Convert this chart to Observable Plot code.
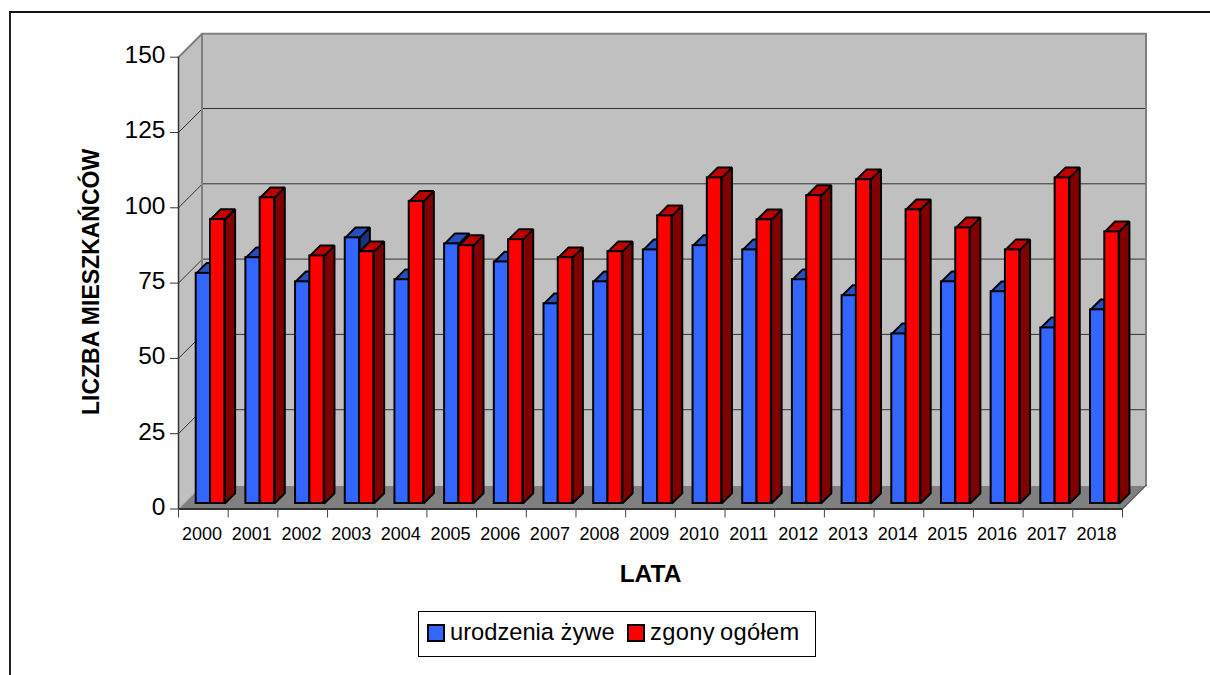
<!DOCTYPE html>
<html lang="pl">
<head>
<meta charset="utf-8">
<script src="https://cdn.jsdelivr.net/npm/d3@7"></script>
<script src="https://cdn.jsdelivr.net/npm/@observablehq/plot@0.6"></script>
<style>
  html, body { margin: 0; padding: 0; background: #fff; overflow: hidden; }
  body { width: 1210px; height: 675px; position: relative; font-family: "Liberation Sans", Arial, sans-serif; color: #000; }
  #chart { position: absolute; left: 0; top: 0; }
  #chart svg { display: block; }
  #frame { position: absolute; left: 9px; top: 11px; right: 0; bottom: 0; border-left: 2px solid #222; border-top: 2px solid #111; pointer-events: none; }
  #ylabel { position: absolute; left: 77px; top: 145px; width: 28px; height: 270px; font-weight: bold; font-size: 23px; line-height: 28px; white-space: nowrap; writing-mode: vertical-rl; transform: rotate(180deg); }
  #legend { position: absolute; left: 418px; top: 611px; width: 396px; height: 44px; border: 1px solid #000; background: #fff; font-size: 23.7px; }
  #legend .sw { position: absolute; top: 12px; width: 14px; height: 14px; border: 2px solid #000; }
  #legend .lb { position: absolute; top: 4px; line-height: 32px; white-space: nowrap; }
</style>
</head>
<body>
<div id="chart"></div>
<div id="frame"></div>
<div id="ylabel">LICZBA MIESZKAŃCÓW</div>
<div id="legend">
  <span class="sw" style="left:8px;background:#3366ff"></span><span class="lb" style="left:31px">urodzenia żywe</span>
  <span class="sw" style="left:208px;background:#ff0000"></span><span class="lb" style="left:231px;word-spacing:-2px;letter-spacing:0.35px">zgony ogółem</span>
</div>
<script>
const years = [2000,2001,2002,2003,2004,2005,2006,2007,2008,2009,2010,2011,2012,2013,2014,2015,2016,2017,2018];
const urodzenia = [76.4,81.6,73.6,88.2,74.3,86.2,80.2,66.3,73.6,84.2,85.6,84.2,74.3,69,56.3,73.6,70.3,58.3,64.3];
const zgony = [94.3,101.5,82.2,83.6,100.3,85.6,87.6,81.6,83.6,95.5,108.1,94.2,102.2,107.5,97.5,91.5,84.2,108.1,90.2];
const yTicks = [0,25,50,75,100,125,150];

// pixel geometry of the oblique projection, turned into data units
const W = 1210, H = 675, L = 178, R = 1122, T = 56.7, B = 508.5;
const ux = (R - L) / years.length, uy = (B - T) / 150;
const wallX = 23.5 / ux, wallY = 23.5 / uy;          // full depth of the chart box
const frontY = 5.5 / uy;                              // bar front plane
const barDX = 10.3 / ux, barDY = 10.3 / uy;           // bar depth
const off = 17.7 / ux, bw1 = 14.3 / ux, bw2 = 14.3 / ux;

function poly(id, pts) {
  return [...pts, pts[0]].map(([x, y]) => ({id, x, y}));
}
function barFaces(values, start, width) {
  const top = [], side = [];
  values.forEach((v, i) => {
    const a = i + start, b = a + width, h = v + frontY;
    top.push(...poly("t" + i, [[a, h], [b, h], [b + barDX, h + barDY], [a + barDX, h + barDY]]));
    side.push(...poly("s" + i, [[b, h], [b + barDX, h + barDY], [b + barDX, frontY + barDY], [b, frontY]]));
  });
  return {top, side};
}
function bars(values, start, width, front, topC, sideC) {
  const f = barFaces(values, start, width);
  const st = {stroke: "#000", strokeWidth: 2, strokeLinejoin: "miter"};
  return [
    Plot.line(f.side, {x: "x", y: "y", z: "id", fill: sideC, ...st}),
    Plot.line(f.top, {x: "x", y: "y", z: "id", fill: topC, ...st}),
    Plot.rect(values, {
      x1: (d, i) => i + start, x2: (d, i) => i + start + width,
      y1: frontY, y2: d => d + frontY, fill: front, ...st
    })
  ];
}

const n = years.length;
const chart = Plot.plot({
  width: W, height: H,
  marginLeft: L, marginRight: W - R, marginTop: T, marginBottom: H - B,
  style: {fontFamily: "'Liberation Sans', Arial, sans-serif", background: "transparent", color: "#000", overflow: "visible"},
  x: {type: "linear", domain: [0, n]},
  y: {type: "linear", domain: [0, 150]},
  marks: [
    // back wall
    Plot.rect([0], {x1: wallX, x2: n + wallX, y1: wallY, y2: 150 + wallY, fill: "#c0c0c0"}),
    // left wall
    Plot.line(poly("left", [[0, 0], [wallX, wallY], [wallX, 150 + wallY], [0, 150]]), {x: "x", y: "y", z: "id", fill: "#c0c0c0", stroke: "none"}),
    // floor
    Plot.line(poly("floor", [[0, 0], [n, 0], [n + wallX, wallY], [wallX, wallY]]), {x: "x", y: "y", z: "id", fill: "#808080", stroke: "none"}),
    // grid on walls
    Plot.ruleY(yTicks.slice(1, -1), {y: d => d + wallY, x1: wallX, x2: n + wallX, stroke: "#333", strokeWidth: 1, dy: -0.5}),
    Plot.link(yTicks.slice(1, -1), {x1: 0, y1: d => d, x2: wallX, y2: d => d + wallY, stroke: "#333", strokeWidth: 1}),
    // wall edges
    Plot.line([[wallX, wallY], [wallX, 150 + wallY], [n + wallX, 150 + wallY], [n + wallX, wallY]], {stroke: "#808080", strokeWidth: 2}),
    Plot.line([[0, 150], [wallX, 150 + wallY]], {stroke: "#808080", strokeWidth: 2}),
    Plot.line([[0, 0], [wallX, wallY]], {stroke: "#a8a8a8", strokeWidth: 1}),
    Plot.line([[n, 0], [n + wallX, wallY]], {stroke: "#222", strokeWidth: 1}),
    // bars
    ...bars(urodzenia, off, bw1, "#3366ff", "#2650bf", "#1a3380"),
    ...bars(zgony, off + bw1, bw2, "#ff0000", "#bf0000", "#800000"),
    // axes
    Plot.ruleX([0], {y1: 0, y2: 150, stroke: "#333", strokeWidth: 1.5}),
    Plot.ruleY([0], {x1: 0, x2: n, stroke: "#333", strokeWidth: 2}),
    Plot.axisY({ticks: yTicks, tickSize: 8, tickFormat: () => "", label: null, stroke: "#333"}),
    Plot.axisY({ticks: yTicks, tickSize: 0, tickPadding: 13, fontSize: 24.5, label: null, dy: -2, tickFormat: d => String(d)}),
    Plot.axisX({ticks: d3.range(n + 1), tickSize: 9, tickFormat: () => "", label: null, stroke: "#444"}),
    Plot.axisX({
      ticks: d3.range(n).map(i => i + 0.475), tickSize: 0, tickPadding: 18.5, fontSize: 18,
      tickFormat: d => String(years[Math.floor(d)]),
      label: "LATA", labelAnchor: "center", labelOffset: 73, labelArrow: "none"
    })
  ]
});
d3.select(chart).selectAll("g[aria-label='x-axis label'] text").style("font-size", "24.5px").style("font-weight", "bold");
document.getElementById("chart").append(chart);
</script>
</body>
</html>
